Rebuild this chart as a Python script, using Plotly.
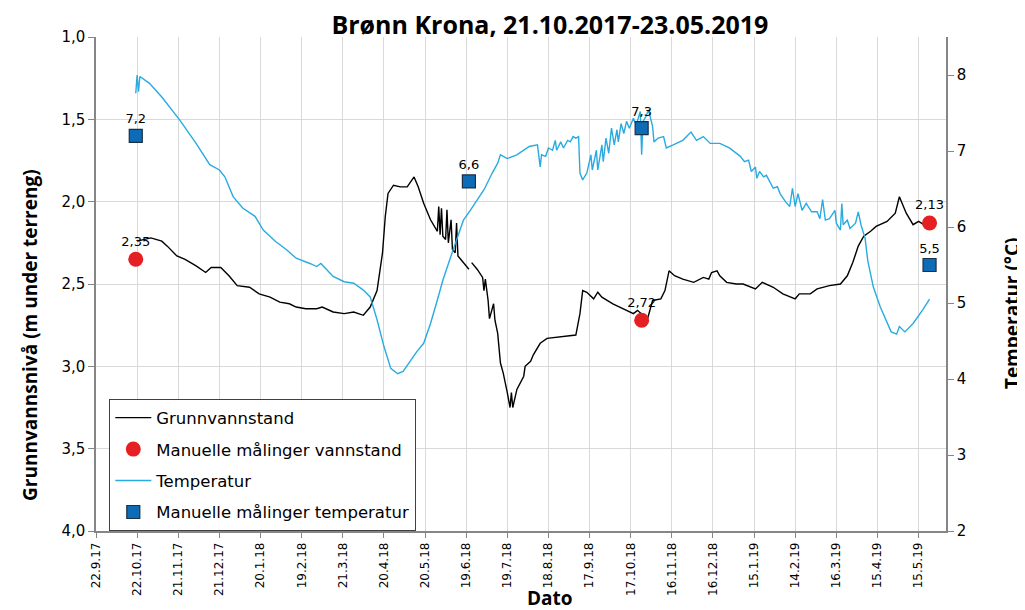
import plotly.graph_objects as go

# ----------------------------------
# Data
# ----------------------------------

level_dates = [
    "2017-10-22", "2017-10-28", "2017-11-01", "2017-11-09", "2017-11-13", "2017-11-20",
    "2017-11-26", "2017-12-04", "2017-12-11", "2017-12-15", "2017-12-22", "2017-12-28",
    "2018-01-03", "2018-01-12", "2018-01-19", "2018-01-27", "2018-02-03", "2018-02-10",
    "2018-02-15", "2018-02-22", "2018-03-02", "2018-03-06", "2018-03-14", "2018-03-22",
    "2018-03-29", "2018-04-05", "2018-04-10", "2018-04-15", "2018-04-19", "2018-04-21",
    "2018-04-23", "2018-04-27", "2018-05-02", "2018-05-07", "2018-05-12", "2018-05-15",
    "2018-05-19", "2018-05-24", "2018-05-29", "2018-05-30", "2018-05-31", "2018-06-01",
    "2018-06-02", "2018-06-04", "2018-06-05", "2018-06-06", "2018-06-08", "2018-06-09",
    "2018-06-11", "2018-06-12", "2018-06-13", "2018-06-15", "2018-06-21", "2018-06-22",
    "2018-06-23", "2018-06-27", "2018-07-01", "2018-07-02", "2018-07-03", "2018-07-05",
    "2018-07-06", "2018-07-09", "2018-07-10", "2018-07-12", "2018-07-14", "2018-07-16",
    "2018-07-19", "2018-07-20", "2018-07-21", "2018-07-22", "2018-07-23", "2018-07-26",
    "2018-07-31", "2018-08-01", "2018-08-05", "2018-08-07", "2018-08-12", "2018-08-17",
    "2018-08-26", "2018-09-07", "2018-09-10", "2018-09-12", "2018-09-15", "2018-09-20",
    "2018-09-23", "2018-09-26", "2018-10-04", "2018-10-14", "2018-10-19", "2018-10-22",
    "2018-10-26", "2018-10-29", "2018-11-02", "2018-11-08", "2018-11-11", "2018-11-14",
    "2018-11-18", "2018-11-24", "2018-12-02", "2018-12-09", "2018-12-13", "2018-12-15",
    "2018-12-19", "2018-12-21", "2018-12-26", "2019-01-02", "2019-01-07", "2019-01-16",
    "2019-01-21", "2019-01-29", "2019-02-05", "2019-02-14", "2019-02-17", "2019-02-25",
    "2019-03-02", "2019-03-11", "2019-03-19", "2019-03-24", "2019-03-28", "2019-04-01",
    "2019-04-05", "2019-04-10", "2019-04-14", "2019-04-22", "2019-04-28", "2019-05-01",
    "2019-05-06", "2019-05-11", "2019-05-15", "2019-05-21", "2019-05-23",
]
level_values = [
    2.24, 2.23, 2.22, 2.24, 2.27, 2.33,
    2.35, 2.39, 2.43, 2.40, 2.40, 2.45,
    2.51, 2.52, 2.56, 2.58, 2.61, 2.62,
    2.64, 2.65, 2.65, 2.64, 2.67, 2.68,
    2.67, 2.69, 2.64, 2.54, 2.31, 2.09,
    1.95, 1.90, 1.91, 1.91, 1.85, 1.91,
    2.01, 2.11, 2.18, 2.03, 2.20, 2.04,
    2.21, 2.23, 2.05, 2.25, 2.11, 2.29,
    2.31, 2.13, 2.33, 2.35, 2.41, None,
    2.37, 2.41, 2.46, 2.54, 2.47, 2.60,
    2.71, 2.62, 2.72, 2.80, 2.98, 3.04,
    3.16, 3.22, 3.25, 3.16, 3.25, 3.14,
    3.06, 3.00, 2.97, 2.93, 2.86, 2.83,
    2.82, 2.81, 2.68, 2.54, 2.55, 2.59,
    2.55, 2.58, 2.62, 2.66, 2.68, 2.66,
    2.69, 2.72, 2.60, 2.59, 2.54, 2.42,
    2.45, 2.47, 2.49, 2.46, 2.47, 2.43,
    2.42, 2.45, 2.49, 2.50, 2.50, 2.53,
    2.49, 2.52, 2.56, 2.59, 2.56, 2.56,
    2.53, 2.51, 2.50, 2.45, 2.37, 2.27,
    2.21, 2.18, 2.15, 2.12, 2.07, 1.97,
    2.07, 2.14, 2.12, 2.15, 2.14,
]

temp_dates = [
    "2017-10-21", "2017-10-22", "2017-10-23", "2017-10-24", "2017-10-31", "2017-11-09",
    "2017-11-22", "2017-12-04", "2017-12-14", "2017-12-21", "2017-12-25", "2017-12-31",
    "2018-01-07", "2018-01-16", "2018-01-22", "2018-01-31", "2018-02-08", "2018-02-15",
    "2018-02-25", "2018-03-02", "2018-03-05", "2018-03-14", "2018-03-22", "2018-03-29",
    "2018-04-05", "2018-04-10", "2018-04-15", "2018-04-20", "2018-04-25", "2018-04-30",
    "2018-05-04", "2018-05-09", "2018-05-14", "2018-05-19", "2018-05-24", "2018-05-29",
    "2018-06-02", "2018-06-07", "2018-06-12", "2018-06-17", "2018-06-22", "2018-06-27",
    "2018-07-02", "2018-07-08", "2018-07-12", "2018-07-14", "2018-07-19", "2018-07-26",
    "2018-07-29", "2018-08-04", "2018-08-10", "2018-08-12", "2018-08-13", "2018-08-16",
    "2018-08-18", "2018-08-21", "2018-08-23", "2018-08-24", "2018-08-27", "2018-08-29",
    "2018-09-01", "2018-09-03", "2018-09-05", "2018-09-07", "2018-09-09", "2018-09-10",
    "2018-09-12", "2018-09-15", "2018-09-18", "2018-09-19", "2018-09-22", "2018-09-23",
    "2018-09-26", "2018-09-27", "2018-09-29", "2018-10-01", "2018-10-03", "2018-10-05",
    "2018-10-07", "2018-10-08", "2018-10-10", "2018-10-12", "2018-10-14", "2018-10-16",
    "2018-10-19", "2018-10-21", "2018-10-24", "2018-10-25", "2018-10-26", "2018-10-28",
    "2018-10-30", "2018-11-02", "2018-11-03", "2018-11-06", "2018-11-10", "2018-11-12",
    "2018-11-17", "2018-11-24", "2018-11-30", "2018-12-04", "2018-12-09", "2018-12-14",
    "2018-12-21", "2018-12-28", "2019-01-05", "2019-01-08", "2019-01-11", "2019-01-13",
    "2019-01-16", "2019-01-17", "2019-01-19", "2019-01-22", "2019-01-24", "2019-01-27",
    "2019-01-29", "2019-02-01", "2019-02-03", "2019-02-07", "2019-02-10", "2019-02-12",
    "2019-02-14", "2019-02-16", "2019-02-19", "2019-02-22", "2019-02-26", "2019-03-02",
    "2019-03-04", "2019-03-06", "2019-03-08", "2019-03-11", "2019-03-15", "2019-03-16",
    "2019-03-19", "2019-03-20", "2019-03-21", "2019-03-24", "2019-03-26", "2019-03-30",
    "2019-04-01", "2019-04-03", "2019-04-06", "2019-04-08", "2019-04-12", "2019-04-17",
    "2019-04-22", "2019-04-25", "2019-04-29", "2019-05-01", "2019-05-05", "2019-05-11",
    "2019-05-18", "2019-05-23",
]
temp_values = [
    7.76, 8.00, 7.78, 7.98, 7.89, 7.71,
    7.41, 7.10, 6.82, 6.75, 6.66, 6.40,
    6.25, 6.14, 5.96, 5.81, 5.70, 5.59,
    5.52, 5.48, 5.52, 5.35, 5.28, 5.26,
    5.17, 5.08, 4.78, 4.43, 4.14, 4.07,
    4.10, 4.23, 4.36, 4.47, 4.73, 5.04,
    5.30, 5.57, 5.83, 6.09, 6.22, 6.36,
    6.49, 6.71, 6.84, 6.95, 6.90, 6.95,
    6.99, 7.06, 7.08, 6.79, 6.95, 6.93,
    7.04, 7.01, 7.14, 7.01, 7.12, 7.04,
    7.14, 7.12, 7.19, 7.17, 7.19, 6.71,
    6.62, 6.71, 6.95, 6.75, 7.01, 6.75,
    7.08, 6.86, 7.17, 6.97, 7.30, 7.08,
    7.28, 7.12, 7.36, 7.23, 7.39, 7.30,
    7.43, 7.34, 7.52, 6.95, 7.39, 7.45,
    7.54, 7.32, 7.12, 7.17, 7.19, 7.04,
    7.08, 7.14, 7.25, 7.14, 7.19, 7.10,
    7.10, 7.04, 6.93, 6.86, 6.88, 6.73,
    6.79, 6.64, 6.73, 6.66, 6.68, 6.57,
    6.51, 6.53, 6.44, 6.33, 6.27, 6.51,
    6.27, 6.44, 6.22, 6.31, 6.20, 6.20,
    6.11, 6.36, 6.09, 6.11, 6.22, 6.05,
    5.96, 6.31, 6.03, 6.09, 5.98, 6.05,
    6.20, 6.03, 5.85, 5.55, 5.21, 4.95,
    4.73, 4.62, 4.59, 4.69, 4.62, 4.73,
    4.91, 5.05,
]

manual_level_dates = ["2017-10-21", "2018-10-25", "2019-05-23"]
manual_level_values = [2.35, 2.72, 2.13]

manual_temp_dates = ["2017-10-21", "2018-06-21", "2018-10-25", "2019-05-23"]
manual_temp_values = [7.2, 6.6, 7.3, 5.5]

x_tick0 = "2017-09-22"
x_range = ["2017-09-22", "2019-06-04"]


def comma(v):
    return str(v).replace(".", ",")


# ----------------------------------
# Figure
# ----------------------------------

fig = go.Figure()

fig.add_trace(go.Scatter(
    x=level_dates, y=level_values,
    mode="lines", name="Grunnvannstand",
    line=dict(color="#000000", width=1.4),
    connectgaps=False, legendgroup="a",
))

fig.add_trace(go.Scatter(
    x=manual_level_dates, y=manual_level_values,
    mode="markers+text", name="Manuelle målinger vannstand",
    marker=dict(color="#e42022", size=15, symbol="circle"),
    text=[comma(v) for v in manual_level_values],
    textposition="top center",
    textfont=dict(family="DejaVu Sans", size=13, color="#000000"),
    legendgroup="b",
))

fig.add_trace(go.Scatter(
    x=temp_dates, y=temp_values, yaxis="y2",
    mode="lines", name="Temperatur",
    line=dict(color="#29abe2", width=1.4),
    legendgroup="c",
))

fig.add_trace(go.Scatter(
    x=manual_temp_dates, y=manual_temp_values, yaxis="y2",
    mode="markers+text", name="Manuelle målinger temperatur",
    marker=dict(color="#0e6cb6", size=13, symbol="square",
                line=dict(color="#1b2f45", width=1.2)),
    text=[comma(v) for v in manual_temp_values],
    textposition="top center",
    textfont=dict(family="DejaVu Sans", size=13, color="#000000"),
    legendgroup="d",
))

axis_grey = "#868686"
grid_grey = "#d9d9d9"

# the page body adds an 8 px offset, so the figure is 8 px smaller
fig.update_layout(
    width=1017,
    height=602,
    margin=dict(l=88, r=79, t=29, b=79),
    plot_bgcolor="white",
    paper_bgcolor="white",
    separators=",.",
    font=dict(family="DejaVu Sans", color="#000000"),
    title=dict(
        text="<b>Brønn Krona, 21.10.2017-23.05.2019</b>",
        font=dict(family="Open Sans", size=25, color="#000000"),
        x=0.534, xref="paper", xanchor="center",
        y=1 - 17 / 602, yref="container", yanchor="middle",
    ),
    xaxis=dict(
        type="date",
        range=x_range,
        tick0=x_tick0,
        dtick=30 * 86400000,
        tickformat="%-d.%-m.%y",
        tickangle=-90,
        tickfont=dict(size=12),
        showgrid=True, gridcolor=grid_grey, gridwidth=1.3,
        showline=True, linecolor=axis_grey, linewidth=1.5,
        ticks="outside", ticklen=5, tickcolor=axis_grey,
        zeroline=False, automargin=False,
    ),
    yaxis=dict(
        range=[4.0, 1.0],
        dtick=0.5,
        tickformat=".1f",
        tickfont=dict(size=15),
        showgrid=True, gridcolor=grid_grey, gridwidth=1.3,
        showline=True, linecolor=axis_grey, linewidth=1.5,
        ticks="outside", ticklen=6, tickcolor=axis_grey,
        zeroline=False, automargin=False,
    ),
    yaxis2=dict(
        overlaying="y",
        side="right",
        range=[2, 8.5],
        dtick=1,
        tickfont=dict(size=15),
        showgrid=False,
        showline=True, linecolor=axis_grey, linewidth=1.5,
        ticks="outside", ticklen=6, tickcolor=axis_grey,
        zeroline=False, automargin=False,
    ),
    legend=dict(
        x=0.0153, y=0.267, xanchor="left", yanchor="top",
        bgcolor="white", bordercolor="#404040", borderwidth=1.3,
        font=dict(family="DejaVu Sans", size=16.5),
        itemwidth=36,
        tracegroupgap=7,
    ),
    showlegend=True,
)

fig.add_annotation(
    text="<b>Grunnvannsnivå (m under terreng)</b>",
    xref="paper", yref="paper", x=-0.0776, y=0.397,
    xanchor="center", yanchor="middle", textangle=-90, showarrow=False,
    font=dict(family="Open Sans", size=19, color="#000000"),
)
fig.add_annotation(
    text="<b>Temperatur (°C)</b>",
    xref="paper", yref="paper", x=1.0776, y=0.441,
    xanchor="center", yanchor="middle", textangle=-90, showarrow=False,
    font=dict(family="Open Sans", size=19, color="#000000"),
)
fig.add_annotation(
    text="<b>Dato</b>",
    xref="paper", yref="paper", x=0.534, y=-0.136,
    xanchor="center", yanchor="middle", showarrow=False,
    font=dict(family="Open Sans", size=19, color="#000000"),
)

fig.write_html("out.html")
